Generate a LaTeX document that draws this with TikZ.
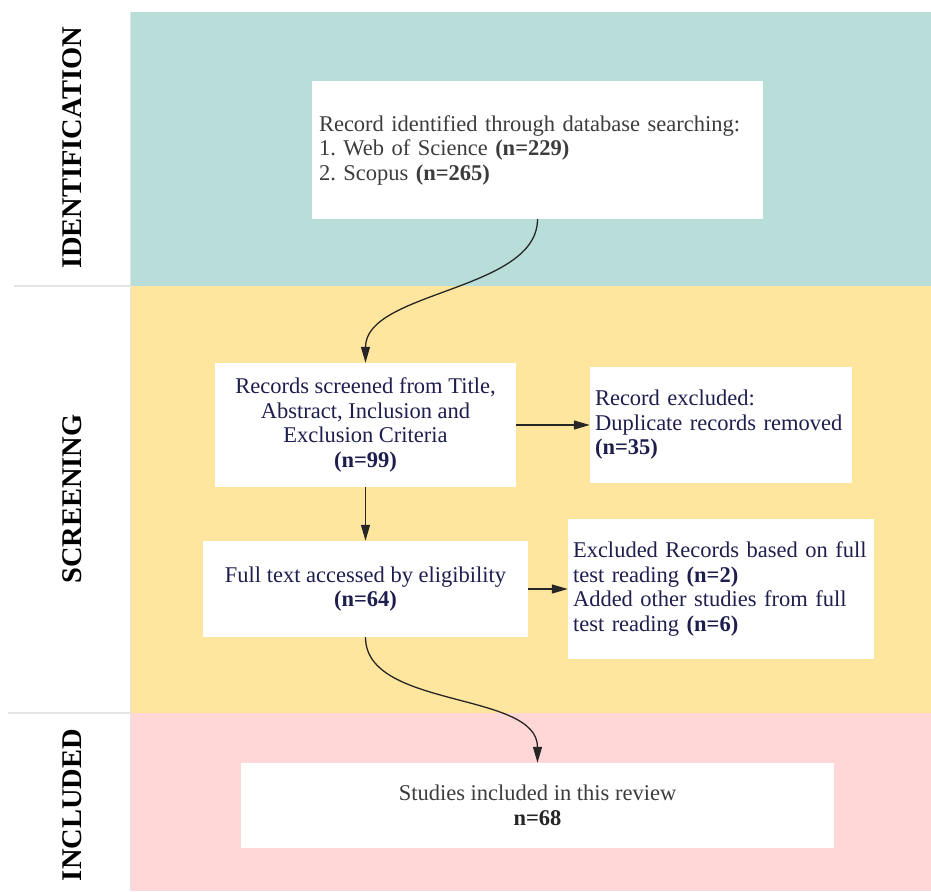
\documentclass[tikz,border=0pt]{standalone}
\usepackage{fontspec}
\setmainfont{Liberation Serif}
\usetikzlibrary{arrows.meta}
\definecolor{tealband}{RGB}{185,221,216}
\definecolor{yellowband}{RGB}{255,230,158}
\definecolor{pinkband}{RGB}{255,215,215}
\definecolor{sepgray}{RGB}{228,228,228}
\definecolor{navytext}{RGB}{30,30,78}
\definecolor{graytext}{RGB}{60,60,60}
\frenchspacing
\begin{document}
\begin{tikzpicture}[x=1pt,y=-1pt,
  box/.style={fill=white, inner sep=0pt, align=center,
    font=\fontsize{22.5}{24.5}\selectfont\frenchspacing},
  lbox/.style={box, align=left},
  stage/.style={rotate=90, font=\fontsize{28.5}{30}\selectfont\bfseries, text=black, inner sep=0pt},
  arr/.style={draw=black!85, line width=1.3pt, -{Triangle[length=16pt,width=9pt]}},
  sep/.style={draw=sepgray, line width=2pt}
]
\useasboundingbox (0,0) rectangle (931,891);
\fill[white] (0,0) rectangle (931,891);
% bands
\fill[tealband] (131,12) rectangle (931,286);
\fill[yellowband] (131,286) rectangle (931,713);
\fill[pinkband] (131,713) rectangle (931,891);
\draw[draw=sepgray, line width=1pt] (130.5,12) -- (130.5,891);
\draw[sep] (14,286) -- (131,286);
\draw[sep] (8,713) -- (131,713);
% stage labels
\node[stage] (lid) at (72,148) {IDENTIFICATION};
\node[stage] (lsc) at (72,499) {SCREENING};
\node[stage] (lin) at (72,805) {INCLUDED};
% boxes
\node[lbox, text=graytext, text width=437pt, inner xsep=7pt, minimum height=138pt] (ident) at (537.5,150)
  {Record identified through database searching:\\
   1. Web of Science \textbf{(n=229)}\\
   2. Scopus \textbf{(n=265)}};
\node[box, text=navytext, minimum width=301pt, minimum height=124pt] (rec) at (365.5,425)
  {Records screened from Title,\\ Abstract, Inclusion and\\ Exclusion Criteria\\ \textbf{(n=99)}};
\node[lbox, text=navytext, text width=252pt, inner xsep=5pt, minimum height=116pt] (excl) at (721,425)
  {Record excluded:\\ Duplicate records removed\\ \textbf{(n=35)}};
\node[box, text=navytext, minimum width=325pt, minimum height=96pt] (full) at (365.5,589)
  {Full text accessed by eligibility\\ \textbf{(n=64)}};
\node[lbox, text=navytext, text width=296pt, inner xsep=5pt, minimum height=140pt] (excl2) at (721,589)
  {Excluded Records based on full\\ test reading \textbf{(n=2)}\\ Added other studies from full\\ test reading \textbf{(n=6)}};
\node[box, text=graytext, minimum width=593pt, minimum height=85pt] (stud) at (537.5,805.5)
  {Studies included in this review\\ {\color{black!85}\textbf{n=68}}};
% connectors
\draw[arr] (ident.south) .. controls +(0,72) and +(0,-72) .. (rec.north);
\draw[arr] (rec.east) -- (excl.west);
\draw[arr] (rec.south) -- (full.north);
\draw[arr] (full.east) -- (excl2.west);
\draw[arr] (full.south) .. controls +(0,72) and +(0,-72) .. (stud.north);
\end{tikzpicture}
\end{document}
